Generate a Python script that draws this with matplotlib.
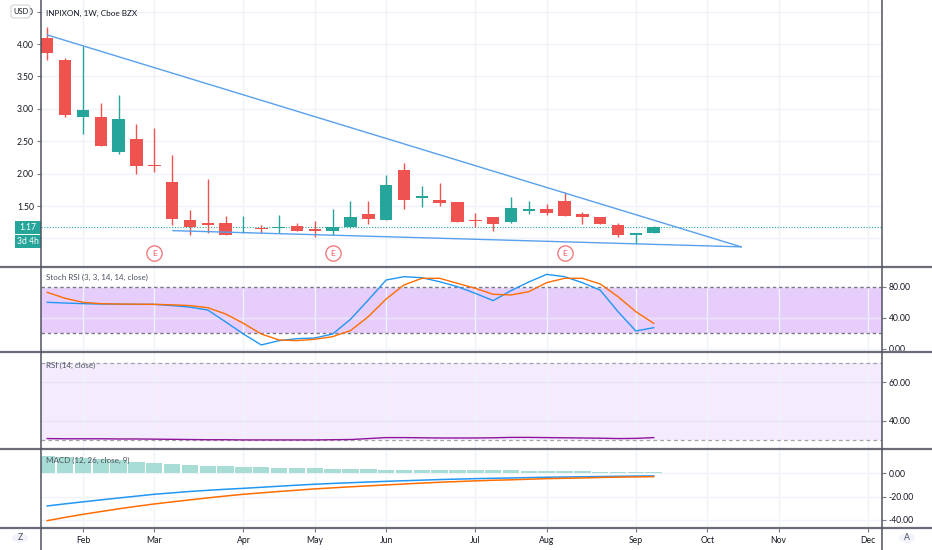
import numpy as np
import pandas as pd
import matplotlib
matplotlib.use('Agg')
import matplotlib.pyplot as plt
import matplotlib.transforms as mtrans
from matplotlib.lines import Line2D
from matplotlib.patches import Rectangle, FancyBboxPatch, Circle
from matplotlib.ticker import FormatStrFormatter

W, H = 932, 550

# ---- data (INPIXON weekly, Cboe BZX) ----
start_week = '2020-01-20'
opens = [4.10, 3.75, 2.87, 2.88, 2.34, 2.53, 2.13, 1.87, 1.29, 1.24, 1.24, 1.08,
         1.16, 1.16, 1.19, 1.14, 1.11, 1.17, 1.38, 1.29, 2.05, 1.63, 1.59, 1.56,
         1.29, 1.33, 1.25, 1.43, 1.45, 1.58, 1.37, 1.33, 1.21, 1.05, 1.08]
highs = [4.27, 3.79, 3.97, 3.09, 3.22, 2.77, 2.71, 2.29, 1.44, 1.92, 1.35, 1.34,
         1.21, 1.36, 1.24, 1.27, 1.45, 1.58, 1.57, 1.98, 2.17, 1.81, 1.85, 1.56,
         1.39, 1.33, 1.64, 1.58, 1.53, 1.71, 1.41, 1.33, 1.24, 1.09, 1.19]
lows = [3.76, 2.88, 2.61, 2.42, 2.30, 2.00, 2.02, 1.21, 1.06, 1.09, 1.05, 1.08,
        1.08, 1.08, 1.12, 1.02, 1.06, 1.16, 1.23, 1.28, 1.46, 1.49, 1.50, 1.25,
        1.17, 1.12, 1.24, 1.38, 1.36, 1.34, 1.23, 1.22, 1.02, 0.91, 1.08]
closes = [3.86, 2.91, 2.98, 2.43, 2.84, 2.11, 2.11, 1.30, 1.18, 1.20, 1.06, 1.10,
          1.14, 1.18, 1.12, 1.12, 1.18, 1.33, 1.30, 1.83, 1.59, 1.65, 1.54, 1.26,
          1.27, 1.23, 1.47, 1.46, 1.39, 1.35, 1.33, 1.23, 1.06, 1.08, 1.17]
earnings_weeks = ['2020-03-02', '2020-05-11', '2020-08-10']

# drawn trend lines (bar index, price)
upper_line_x = [0.0, 38.9]
upper_line_y = [4.14, 0.87]
lower_line_x = [7.05, 38.9]
lower_line_y = [1.12, 0.87]

stoch_k = [60.2, 59.3, 58.5, 58.0, 57.8, 57.6, 57.6, 56.0, 54.0, 50.3, 35.0, 19.3,
           5.2, 10.8, 13.3, 14.2, 19.3, 38.3, 63.2, 89.0, 93.3, 92.0, 86.8, 80.4,
           71.8, 62.4, 75.3, 86.5, 96.3, 93.3, 85.6, 76.0, 48.2, 23.2, 27.5]
stoch_d = [73.1, 65.4, 60.2, 58.5, 58.0, 57.8, 57.6, 57.0, 56.0, 53.3, 45.2, 33.1,
           19.3, 11.6, 10.8, 12.5, 15.9, 23.7, 41.7, 64.5, 82.6, 91.2, 91.2, 84.7,
           78.3, 70.6, 69.7, 74.0, 85.6, 91.2, 91.2, 83.9, 67.5, 48.2, 33.1]

rsi = [30.9, 30.8, 30.8, 30.8, 30.7, 30.7, 30.6, 30.5, 30.4, 30.3, 30.3, 30.2,
       30.2, 30.2, 30.2, 30.2, 30.3, 30.4, 30.9, 31.4, 31.4, 31.3, 31.2, 31.2,
       31.2, 31.3, 31.5, 31.5, 31.4, 31.3, 31.2, 31.1, 30.9, 31.0, 31.4]

macd = [-28.0, -26.2, -24.5, -22.8, -21.2, -19.6, -18.0, -16.8, -15.6, -14.6, -13.7,
        -12.9, -12.0, -11.1, -10.2, -9.4, -8.7, -8.1, -7.5, -6.9, -6.4, -5.9, -5.4,
        -5.0, -4.6, -4.3, -4.0, -3.7, -3.4, -3.2, -3.0, -2.8, -2.6, -2.4, -2.3]
signal = [-40.6, -37.8, -35.2, -32.8, -30.5, -28.3, -26.3, -24.5, -22.8, -21.1, -19.5,
          -18.0, -16.8, -15.6, -14.5, -13.4, -12.5, -11.6, -10.8, -10.0, -9.2, -8.4,
          -7.7, -7.1, -6.5, -6.0, -5.6, -5.1, -4.6, -4.3, -4.0, -3.6, -3.3, -3.1, -2.9]
hist = [15.0, 14.0, 13.2, 12.4, 11.6, 10.0, 8.9, 7.8, 7.2, 6.6, 6.2, 5.7, 5.4, 4.9,
        4.6, 4.3, 4.0, 3.5, 3.3, 3.2, 3.1, 3.0, 3.0, 2.9, 2.8, 2.8, 2.7, 2.1, 2.0,
        2.0, 1.9, 1.4, 1.3, 1.3, 1.2]

last_price = 1.17
countdown = '3d 4h'

# ---- style ----
UP = '#26a69a'
DOWN = '#ef5350'
BLUE = '#2196f3'
ORANGE = '#ff6d00'
GRID = '#f0f3fa'
TXT = '#131722'
SEP = '#6a6d78'
TICK_FS = 6.2
LABEL_FS = 5.8
plt.rcParams['font.family'] = ['Lato', 'DejaVu Sans']

fig = plt.figure(figsize=(W / 100, H / 100), dpi=100)


def rect(x0, y0, x1, y1):
    return [x0 / W, 1 - y1 / H, (x1 - x0) / W, (y1 - y0) / H]


ax_p = fig.add_axes(rect(41, 0, 882, 267))
ax_s = fig.add_axes(rect(41, 267, 882, 352))
ax_r = fig.add_axes(rect(41, 352, 882, 449))
ax_m = fig.add_axes(rect(41, 449, 882, 528))
axes = [ax_p, ax_s, ax_r, ax_m]

n = len(closes)
x = np.arange(n)
weeks = pd.date_range(start_week, periods=48, freq='W-MON')
month_pos = [i for i in range(1, len(weeks)) if weeks[i].month != weeks[i - 1].month]
month_lab = [weeks[i].strftime('%b') for i in month_pos]

for ax in axes:
    for s in ax.spines.values():
        s.set_visible(False)
    ax.set_xlim(-0.35, 46.8)
    ax.set_xticks(month_pos)
    ax.grid(color=GRID, lw=1)
    ax.set_axisbelow(True)
    ax.tick_params(axis='x', length=0, labelbottom=False)
    ax.tick_params(axis='y', length=3, width=0.8, color='#787b86',
                   labelsize=TICK_FS, labelcolor=TXT, pad=2)

# ---- price panel ----
ax_p.set_ylim(0.559, 4.679)
price_ticks = np.arange(1.0, 4.51, 0.5)
ax_p.set_yticks(price_ticks)
# 1.00 sits under the countdown tag, so its label is not shown
ax_p.set_yticklabels(['' if abs(t - 1.0) < 1e-9 else '%.2f' % t for t in price_ticks])
ax_p.yaxis.tick_left()
for i in range(n):
    col = UP if closes[i] >= opens[i] else DOWN
    ax_p.vlines(x[i], lows[i], highs[i], color=col, lw=1, zorder=3)
    body = max(abs(closes[i] - opens[i]), 0.012)
    ax_p.bar(x[i], body, bottom=min(opens[i], closes[i]), width=0.7,
             color=col, zorder=4)
ax_p.plot(upper_line_x, upper_line_y, color='#58a0ec', lw=1, zorder=5)
ax_p.plot(lower_line_x, lower_line_y, color='#58a0ec', lw=1, zorder=5)
ax_p.axhline(last_price, color=UP, lw=0.8, ls=(0, (1, 1.5)), zorder=2)
ax_p.text(5 / 841, 254 / 267, 'INPIXON, 1W, Cboe BZX', transform=ax_p.transAxes,
          fontsize=5.9, color=TXT, va='center', ha='left')

tr = mtrans.blended_transform_factory(ax_p.transData, ax_p.transAxes)
for d in earnings_weeks:
    i = weeks.get_loc(pd.Timestamp(d))
    ax_p.plot(i, 14 / 267, 'o', ms=11, mfc='white', mec='#f77c80', mew=1,
              transform=tr, zorder=6, clip_on=False)
    ax_p.text(i, 14 / 267, 'E', transform=tr, color='#f0565f', fontsize=6.0,
              ha='center', va='center', zorder=7)

# ---- stoch RSI ----
ax_s.set_ylim(-3.9, 105.8)
ax_s.set_yticks([0, 40, 80])
ax_s.yaxis.set_major_formatter(FormatStrFormatter('%.2f'))
ax_s.yaxis.tick_right()
ax_s.axhspan(20, 80, color='#e6cdfb', zorder=0.5, lw=0)
ax_s.axhline(40, color='#eee1fc', lw=1, zorder=0.6)
for lvl in (20, 80):
    ax_s.axhline(lvl, color='#787b86', lw=1, ls=(0, (2.5, 2)), zorder=1)
ax_s.plot(x, stoch_k, color=BLUE, lw=1, zorder=3)
ax_s.plot(x, stoch_d, color=ORANGE, lw=1, zorder=3)
ax_s.text(5 / 841, 0.875, 'Stoch RSI (3, 3, 14, 14, close)', transform=ax_s.transAxes,
          fontsize=LABEL_FS, color='#4c525e', va='center')

# ---- RSI ----
ax_r.set_ylim(25.5, 75.7)
ax_r.set_yticks([40, 60])
ax_r.yaxis.set_major_formatter(FormatStrFormatter('%.2f'))
ax_r.yaxis.tick_right()
ax_r.axhspan(30, 70, color='#f4ebfe', zorder=0.5, lw=0)
for lvl in (40, 60):
    ax_r.axhline(lvl, color='#ebe3f5', lw=1, zorder=0.6)
for lvl in (30, 70):
    ax_r.axhline(lvl, color='#a0a3ab', lw=0.9, ls=(0, (3, 2.5)), zorder=1)
ax_r.plot(x, rsi, color='#8e1599', lw=1, zorder=3)
ax_r.text(5 / 841, 0.86, 'RSI (14, close)', transform=ax_r.transAxes,
          fontsize=LABEL_FS, color='#4c525e', va='center')

# ---- MACD ----
ax_m.set_ylim(-46.9, 20.8)
ax_m.set_yticks([-40, -20, 0])
ax_m.yaxis.set_major_formatter(FormatStrFormatter('%.2f'))
ax_m.yaxis.tick_right()
ax_m.bar(x, hist, width=0.92, color='#a8ddd6', zorder=2)
ax_m.plot(x, macd, color=BLUE, lw=1.1, zorder=3)
ax_m.plot(x, signal, color=ORANGE, lw=1.1, zorder=3)
ax_m.text(5 / 841, 0.85, 'MACD (12, 26, close, 9)', transform=ax_m.transAxes,
          fontsize=LABEL_FS, color='#4c525e', va='center', zorder=5)
ax_m.tick_params(axis='x', length=3, width=0.8, color='#787b86', labelbottom=True,
                 labelsize=TICK_FS, labelcolor=TXT, pad=3)
ax_m.set_xticklabels(month_lab)


# ---- frame lines and labels in pixel space ----
def fx(px):
    return px / W


def fy(py):
    return 1 - py / H


for yy in (267, 352, 449, 528):
    fig.add_artist(Line2D([0, 1], [fy(yy), fy(yy)], color=SEP, lw=1.6))
for xx in (41, 882):
    fig.add_artist(Line2D([fx(xx), fx(xx)], [0, 1], color='#50535e', lw=1.1))

# last price + countdown tags
fig.add_artist(Rectangle((fx(15), fy(234)), 26 / W, 13 / H, color=UP, lw=0))
fig.text(fx(28), fy(227.5), '%.2f' % last_price, color='white', fontsize=TICK_FS,
         ha='center', va='center')
fig.add_artist(Rectangle((fx(15), fy(248)), 26 / W, 13 / H, color=UP, lw=0))
fig.text(fx(28), fy(241.5), countdown, color='white', fontsize=TICK_FS,
         ha='center', va='center')

# currency box (covers the clipped top label, as on the source)
fig.add_artist(FancyBboxPatch((fx(11), fy(18)), 19 / W, 13 / H,
                              boxstyle='round,pad=0,rounding_size=0.004',
                              fc='white', ec='#d1d4dc', lw=0.8))
fig.text(fx(20.5), fy(11.5), 'USD', color=TXT, fontsize=5.4, ha='center', va='center')

for cx, lab in ((20, 'Z'), (907, 'A')):
    fig.add_artist(Circle((fx(cx), fy(538)), 8 / W, fc='#f0f3fa', ec='none'))
    fig.text(fx(cx), fy(538), lab, color='#4c525e', fontsize=6.3, ha='center', va='center')

fig.savefig('out.png', dpi=100, facecolor='white')
